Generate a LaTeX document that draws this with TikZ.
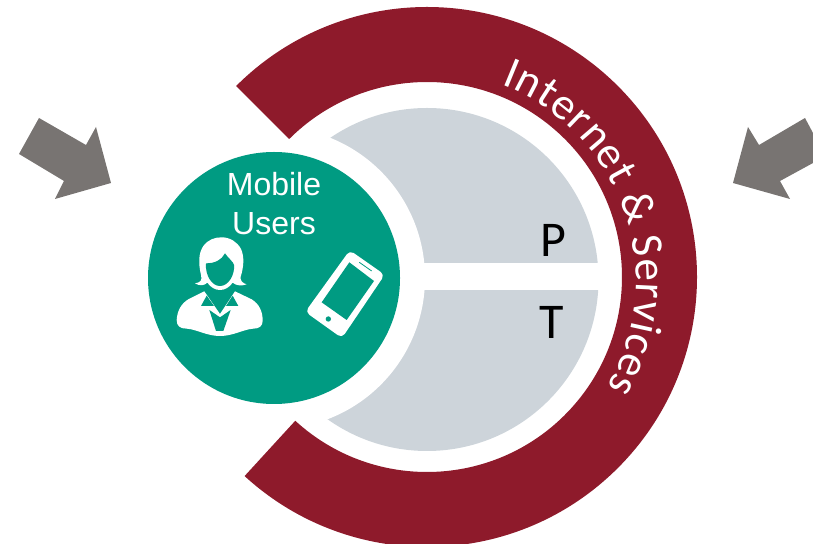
\documentclass[tikz,border=0pt]{standalone}
\usepackage{fontspec}
\setmainfont{Liberation Sans}
\newfontfamily\ringfont{Carlito}
\newcommand{\ringstyle}{\ringfont\fontsize{45}{54}\selectfont}
\usetikzlibrary{decorations.text}
\definecolor{ringred}{HTML}{8E1A2B}
\definecolor{usergreen}{HTML}{009B82}
\definecolor{panelgray}{HTML}{CDD4DA}
\definecolor{arrowgray}{HTML}{787472}
\begin{document}
\begin{tikzpicture}[
    x=1pt,
    y=1pt,
    users/.style={circle, fill=usergreen, minimum size=252pt, inner sep=0pt},
    halo/.style={circle, fill=white, minimum size=302pt, inner sep=0pt},
    label/.style={text=white, align=center, font=\fontsize{32}{39}\selectfont},
    panel/.style={text=black, font=\ringfont\fontsize{50}{60}\selectfont},
    arrow/.style={fill=arrowgray},
    icon/.style={fill=white, line join=round},
    cutout/.style={fill=usergreen}
]
\useasboundingbox (0,0) rectangle (813,543);

% Panels
\fill[panelgray] (427,263.5) circle[radius=171.5];
\node[halo] (halo) at (274,265) {};
\fill[white] (420,253) rectangle (610,280);

% Outer ring
\fill[ringred] ([shift={(135:270)}]427,266) arc[start angle=135, end angle=-132.5, radius=270]
    -- ([shift={(-132.5:195)}]427,266) arc[start angle=-132.5, end angle=135, radius=195] -- cycle;

% Ring text
\path[decorate, decoration={text along path, text align={fit to path}, text color=white, text={|\ringstyle|Internet {\&} Services}}]
    ([shift={(69.2:209)}]427,263) arc[start angle=69.2, end angle=-30.8, radius=209];

% Mobile users
\node[users] (users) at (274,265) {};
\node[label] (mobile) at (274,339) {Mobile\\Users};
\node[panel] (plane) at (553,303) {P};
\node[panel] (transport) at (552,221) {T};

% Person
\begin{scope}[shift={(170,313)}, xscale=1/3, yscale=-1/3]
\fill[icon] (75,160) .. controls (90,158) and (98,152) .. (93,135)
    .. controls (85,100) and (85,70) .. (100,48)
    .. controls (115,28) and (135,22) .. (155,22)
    .. controls (180,22) and (200,35) .. (212,55)
    .. controls (225,80) and (220,115) .. (212,140)
    .. controls (210,152) and (218,160) .. (230,163)
    .. controls (215,168) and (200,168) .. (188,158)
    .. controls (178,172) and (165,180) .. (150,180)
    .. controls (135,180) and (122,172) .. (112,158)
    .. controls (102,168) and (88,168) .. (75,160) -- cycle;
\fill[cutout] (108,100) .. controls (135,100) and (155,90) .. (165,70)
    .. controls (175,85) and (190,95) .. (192,105)
    .. controls (195,135) and (175,168) .. (150,168)
    .. controls (125,168) and (105,135) .. (108,100) -- cycle;
\fill[icon] (20,270) .. controls (22,240) and (35,220) .. (55,208)
    -- (103,184) -- (150,252) -- (195,184) -- (245,208)
    .. controls (268,222) and (278,245) .. (278,272)
    .. controls (278,288) and (268,296) .. (250,296)
    .. controls (220,298) and (190,318) .. (150,318)
    .. controls (110,318) and (80,298) .. (50,296)
    .. controls (30,296) and (20,288) .. (20,270) -- cycle;
\fill[cutout] (110,197) -- (93,228) -- (132,228) -- cycle;
\fill[cutout] (188,197) -- (168,228) -- (205,228) -- cycle;
\fill[cutout] (118,240) -- (150,262) -- (182,240) -- (160,303) -- (138,303) -- cycle;
\end{scope}

% Phone
\begin{scope}[shift={(300,298)}, xscale=1/3, yscale=-1/3]
\filldraw[icon, draw=white, line width=2pt, rounded corners=4pt] (150,20) -- (250,90) -- (125,275) -- (20,200) -- cycle;
\fill[cutout] (148,52) -- (222,108) -- (140,225) -- (65,172) -- cycle;
\fill[cutout] (85,222) circle[radius=8];
\draw[usergreen, line width=0.8pt] (178,52) -- (215,78);
\end{scope}

% Arrows
\fill[arrow] (39,425) -- (86,398) -- (96,416) -- (111,360) -- (55,344) -- (64,362) -- (19,389) -- cycle;
\fill[arrow] (748,416) -- (759,398) -- (805,425) -- (813,410) -- (813,380) -- (780,362) -- (790,344) -- (733,360) -- cycle;

\end{tikzpicture}
\end{document}
